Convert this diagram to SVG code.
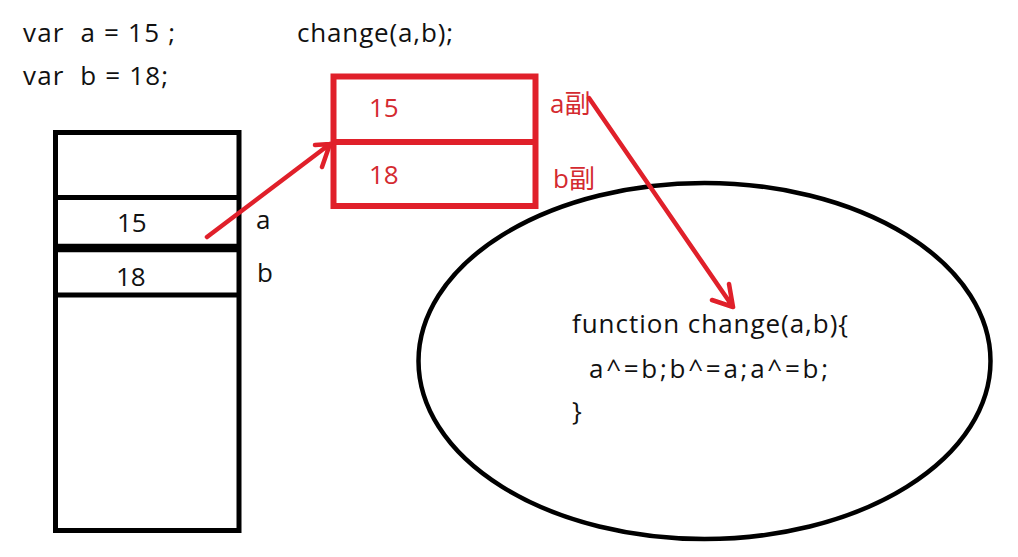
<svg xmlns="http://www.w3.org/2000/svg" width="1018" height="557" viewBox="0 0 1018 557">
<style>
  text { font-family: "Open Sans", "Noto Sans CJK SC", sans-serif; font-size: 26px; fill: #111; }
  .red { fill: #d42a30; }
  .blk { fill: none; stroke: #000; stroke-width: 5; }
  .rbox { fill: none; stroke: #e0202a; stroke-width: 6; }
  .conn { fill: none; stroke: #e0202a; stroke-width: 4.5; stroke-linecap: round; stroke-linejoin: round; }
</style>
<rect width="1018" height="557" fill="#fff"/>
<g id="code-top">
  <text x="23" y="42" textLength="152" lengthAdjust="spacing" xml:space="preserve">var  a = 15 ;</text>
  <text x="23" y="85" textLength="145" lengthAdjust="spacing" xml:space="preserve">var  b = 18;</text>
  <text x="297" y="42" textLength="156" lengthAdjust="spacing">change(a,b);</text>
</g>
<g id="stack">
  <rect class="blk" x="55.5" y="132.5" width="183.5" height="398"/>
  <line class="blk" x1="55" y1="197.5" x2="239" y2="197.5"/>
  <line x1="55" y1="248" x2="239" y2="248" stroke="#000" stroke-width="8.5"/>
  <line class="blk" x1="55" y1="295" x2="239" y2="295"/>
  <text x="117" y="232">15</text>
  <text x="116" y="286">18</text>
  <text x="256" y="229">a</text>
  <text x="257" y="282">b</text>
</g>
<g id="copy-box">
  <rect class="rbox" x="333.5" y="76.5" width="202" height="129.5"/>
  <line class="rbox" x1="333" y1="142" x2="536" y2="142"/>
  <text class="red" x="369" y="117">15</text>
  <text class="red" x="369" y="184">18</text>
  <text class="red" x="550" y="113">a副</text>
  <text class="red" x="553" y="188">b副</text>
</g>
<g id="function-ellipse">
  <ellipse cx="704.5" cy="361" rx="286" ry="178" fill="none" stroke="#000" stroke-width="4.5"/>
  <text x="572" y="333" textLength="276" lengthAdjust="spacing">function change(a,b){</text>
  <text x="589" y="378" textLength="239" lengthAdjust="spacing">a^=b;b^=a;a^=b;</text>
  <text x="572" y="420">}</text>
</g>
<g id="connectors">
  <path class="conn" d="M207 237 L330 144 M315 145 L330 144 L322 167"/>
  <path class="conn" d="M589 98 L733 307 M712 300 L733 307 L729 284"/>
</g>
</svg>
